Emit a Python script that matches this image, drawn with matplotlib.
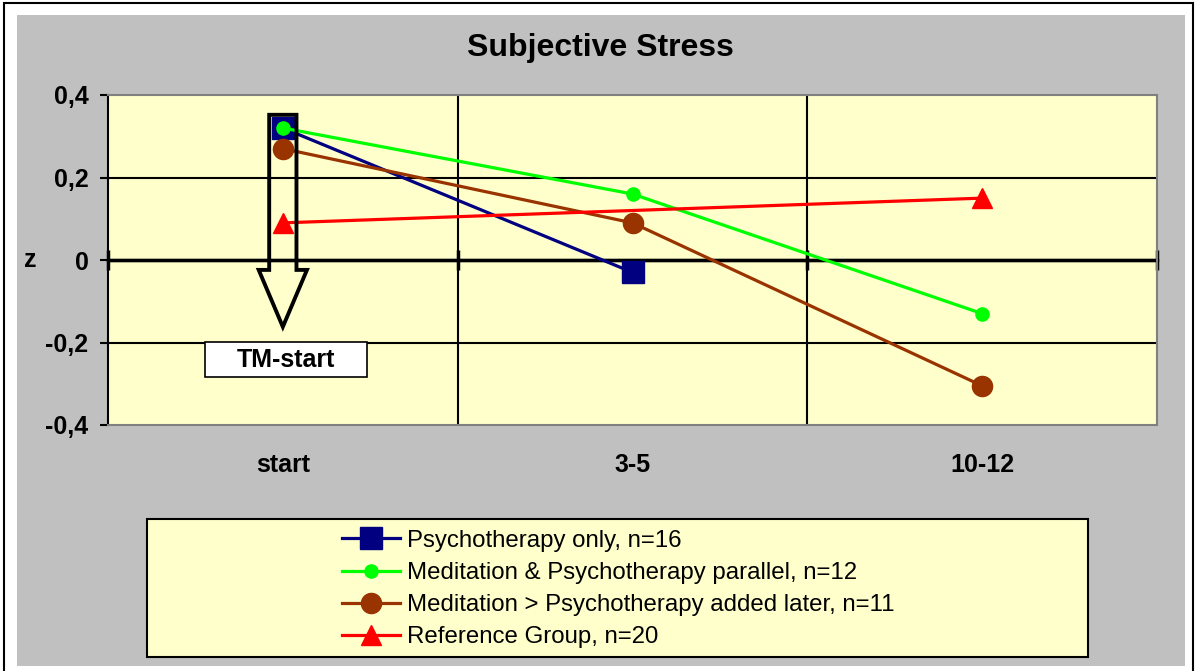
import numpy as np
import matplotlib
matplotlib.use("Agg")
import matplotlib.pyplot as plt
from matplotlib.patches import Rectangle, FancyArrow

plt.rcParams['font.family'] = ['Liberation Sans', 'DejaVu Sans']

categories = ["start", "3-5", "10-12"]
psy_only = [0.32, -0.03, np.nan]
med_parallel = [0.32, 0.16, -0.13]
med_later = [0.27, 0.09, -0.305]
reference = [0.09, np.nan, 0.15]

labels = ["Psychotherapy only, n=16",
          "Meditation & Psychotherapy parallel, n=12",
          "Meditation > Psychotherapy added later, n=11",
          "Reference Group, n=20"]
yticks = [-0.4, -0.2, 0, 0.2, 0.4]
ytick_labels = ["-0,4", "-0,2", "0", "0,2", "0,4"]

W, H = 1197, 671
fig = plt.figure(figsize=(W / 100, H / 100), dpi=100)
fig.patch.set_facecolor("white")

# outer frame and gray chart area
fig.patches.append(Rectangle((4 / W, -0.01), 1189 / W, 1 - 3 / H + 0.01, transform=fig.transFigure,
                             facecolor="white", edgecolor="black", lw=1.5, zorder=-3))
fig.patches.append(Rectangle((17 / W, 1 - 666 / H), 1168 / W, 651 / H, transform=fig.transFigure,
                             facecolor="#C0C0C0", edgecolor="none", zorder=-2))

ax = fig.add_axes([108 / W, 1 - 425 / H, 1049 / W, 330 / H])
ax.set_zorder(1)
ax.set_facecolor("#FFFFCC")
ax.set_xlim(0, 3)
ax.set_ylim(-0.4, 0.4)

for s in ["top", "right", "bottom"]:
    ax.spines[s].set_color("#808080")
    ax.spines[s].set_linewidth(1.5)
ax.spines["left"].set_color("black")
ax.spines["left"].set_linewidth(1.5)

ax.set_yticks(yticks)
ax.set_yticklabels(ytick_labels, fontsize=18, fontweight="bold")
ax.tick_params(axis="y", length=6, width=1.5, pad=8)

xpos = np.arange(len(categories)) + 0.5
ax.set_xticks(xpos)
ax.set_xticklabels(categories, fontsize=18, fontweight="bold")
ax.tick_params(axis="x", length=0, pad=20)

for yv in [-0.2, 0.2]:
    ax.axhline(yv, color="black", lw=1.5, zorder=1)
for xv in [1, 2]:
    ax.axvline(xv, color="black", lw=1.5, zorder=1)

# category axis drawn at z = 0
ax.axhline(0, color="black", lw=2.4, zorder=2)
sec = ax.secondary_xaxis(0.5)
sec.set_xticks([0, 1, 2, 3])
sec.set_xticklabels([])
sec.tick_params(direction="inout", length=14, width=2.5)
for s in sec.spines.values():
    s.set_linewidth(2.4)

ax.set_ylabel("z", rotation=0, fontsize=18, fontweight="bold", va="center", ha="center")
ax.yaxis.set_label_coords(-0.074, 0.5)

series = [
    (psy_only, "#000080", "s", 16),
    (med_parallel, "#00FF00", "o", 9.5),
    (med_later, "#993300", "o", 14.5),
    (reference, "#FF0000", "^", 15),
]
handles = []
for (vals, col, mk, ms), lab in zip(series, labels):
    v = np.array(vals, dtype=float)
    ok = ~np.isnan(v)
    h, = ax.plot(xpos[ok], v[ok], color=col, lw=2.3, marker=mk, markersize=ms,
                 markeredgecolor=col, label=lab, zorder=3)
    handles.append(h)

# TM-start arrow and box
ax.add_patch(FancyArrow(0.5, 0.352, 0, -0.514, width=0.078, head_width=0.138, head_length=0.138,
                        length_includes_head=True, fill=False, edgecolor="black", lw=2.8, zorder=5))
ax.add_patch(Rectangle((0.277, -0.284), 0.463, 0.085, facecolor="white", edgecolor="black",
                       lw=1.2, zorder=6))
ax.text(0.5085, -0.2415, "TM-start", ha="center", va="center", fontsize=18,
        fontweight="bold", zorder=7)

fig.text(600 / W, 1 - 48 / H, "Subjective Stress", ha="center", va="center",
         fontsize=23, fontweight="bold")

# legend box
fig.patches.append(Rectangle((147 / W, 1 - 657 / H), 941 / W, 138 / H, transform=fig.transFigure,
                             facecolor="#FFFFCC", edgecolor="black", lw=1.5, zorder=-1))
leg = fig.legend(handles=handles, loc="center left", bbox_to_anchor=(342 / W, 1 - 589 / H),
                 frameon=False, fontsize=17.3, handlelength=2.4, handletextpad=0.3,
                 labelspacing=0.42, borderpad=0, borderaxespad=0)
leg.set_zorder(5)

fig.savefig("out.png", dpi=100)
